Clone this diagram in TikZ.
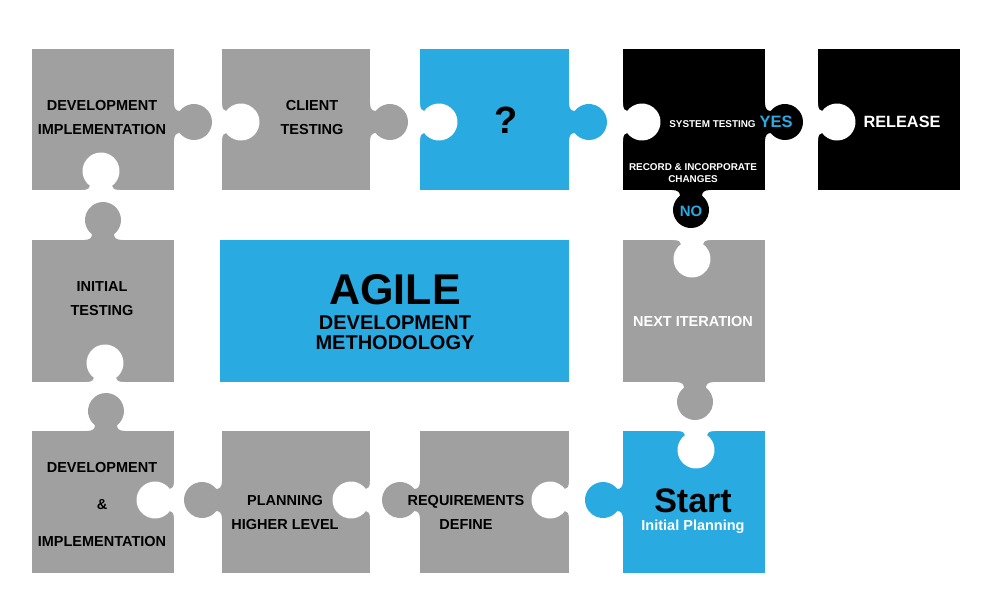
\documentclass[tikz,border=0pt]{standalone}
\usepackage{fontspec}
\setmainfont{Liberation Sans}
\definecolor{pgrey}{RGB}{160,160,160}
\definecolor{pblue}{RGB}{41,170,225}
\tikzset{
  piece/.style={rectangle, inner sep=0pt, outer sep=0pt, minimum width=142pt, minimum height=141pt},
  knobtab/.pic={\path[pic actions] (-19,-1) -- (-19,0) .. controls (-13,0) and (-11,2.5) .. (-11,5.75)
      arc[start angle=232.3,end angle=-52.3,radius=18] .. controls (11,2.5) and (13,0) .. (19,0) -- (19,-1) -- cycle;},
  knobhole/.pic={\path[fill=white] (-19,-1.5) -- (-19,0) .. controls (-13,0) and (-11,1.8) .. (-11,4.13)
      arc[start angle=233.5,end angle=-53.5,radius=18.5] .. controls (11,1.8) and (13,0) .. (19,0) -- (19,-1.5) -- cycle;},
  lbl/.style={font=\bfseries\fontsize{14.5}{24}\selectfont, align=center, inner sep=0pt},
}
\begin{document}
\begin{tikzpicture}[x=1pt,y=-1pt]
\useasboundingbox (0,0) rectangle (994,606);
% pieces
\node[piece, fill=pgrey] (p1) at (103,119.5) {};
\node[piece, fill=pgrey, minimum width=148pt] (p2) at (296,119.5) {};
\node[piece, fill=pblue, minimum width=149pt] (p3) at (494.5,119.5) {};
\node[piece, fill=black] (p4) at (694,119.5) {};
\node[piece, fill=black] (p5) at (889,119.5) {};
\node[piece, fill=pgrey, minimum height=142pt] (p6) at (103,311) {};
\node[piece, fill=pblue, minimum width=349pt, minimum height=142pt] (agile) at (394.5,311) {};
\node[piece, fill=pgrey, minimum height=142pt] (p7) at (694,311) {};
\node[piece, fill=pgrey, minimum height=142pt] (p8) at (103,502) {};
\node[piece, fill=pgrey, minimum width=148pt, minimum height=142pt] (p9) at (296,502) {};
\node[piece, fill=pgrey, minimum width=149pt, minimum height=142pt] (p10) at (494.5,502) {};
\node[piece, fill=pblue, minimum height=142pt] (p11) at (694,502) {};
% tabs
\pic[fill=pgrey, rotate=90] at (174,122) {knobtab};
\pic[fill=pgrey, rotate=90] at (370,122) {knobtab};
\pic[fill=pblue, rotate=90] at (569,122) {knobtab};
\pic[fill=black, rotate=90] at (765,122) {knobtab};
\pic[fill=black] at (691,190) {knobtab};
\pic[fill=pgrey, rotate=180] at (103,240) {knobtab};
\pic[fill=pgrey] at (695,382) {knobtab};
\pic[fill=pgrey, rotate=180] at (106,431) {knobtab};
\pic[fill=pgrey, rotate=-90] at (222,500) {knobtab};
\pic[fill=pgrey, rotate=-90] at (420,500) {knobtab};
\pic[fill=pblue, rotate=-90] at (623,500) {knobtab};
% holes
\pic[rotate=180] at (101,190) {knobhole};
\pic[rotate=90] at (222,122) {knobhole};
\pic[rotate=90] at (420,122) {knobhole};
\pic[rotate=90] at (623,122) {knobhole};
\pic[rotate=90] at (818,122) {knobhole};
\pic[rotate=180] at (105,382) {knobhole};
\pic at (692,240) {knobhole};
\pic[rotate=-90] at (174,500) {knobhole};
\pic[rotate=-90] at (370,500) {knobhole};
\pic[rotate=-90] at (569,500) {knobhole};
\pic at (696,431) {knobhole};
% texts
\node[lbl] (t1) at (102,118) {DEVELOPMENT\\IMPLEMENTATION};
\node[lbl] (t2) at (312,118) {CLIENT\\TESTING};
\node[lbl, font=\bfseries\fontsize{38}{40}\selectfont] (t3) at (506,120) {?};
\node[lbl, anchor=base, text=white] (t4) at (731,127.5) {{\fontsize{9.9}{12}\selectfont SYSTEM TESTING} {\color{pblue}\fontsize{16.5}{18}\selectfont YES}};
\node[lbl, text=white, font=\bfseries\fontsize{9.9}{12}\selectfont] (t4b) at (693,173) {RECORD \& INCORPORATE\\CHANGES};
\node[lbl, text=pblue, font=\bfseries\fontsize{15}{18}\selectfont] (tno) at (691,211) {NO};
\node[lbl, text=white, font=\bfseries\fontsize{16.3}{18}\selectfont] (t5) at (902,122) {RELEASE};
\node[lbl] (t6) at (102,299) {INITIAL\\TESTING};
\node[lbl, font=\bfseries\fontsize{43}{45}\selectfont] (tag) at (395,290) {AGILE};
\node[lbl, font=\bfseries\fontsize{20}{20}\selectfont] (tag2) at (395,333) {DEVELOPMENT\\METHODOLOGY};
\node[lbl, text=white] (t7) at (693,322) {NEXT ITERATION};
\node[lbl, font=\bfseries\fontsize{14.5}{37}\selectfont] (t8) at (102,504) {DEVELOPMENT\\\&\\IMPLEMENTATION};
\node[lbl] (t9) at (285,512) {PLANNING\\HIGHER LEVEL};
\node[lbl] (t10) at (466,512) {REQUIREMENTS\\DEFINE};
\node[lbl, font=\bfseries\fontsize{34}{36}\selectfont] (t11) at (693,501) {Start};
\node[lbl, text=white] (t11b) at (693,527) {Initial Planning};
\end{tikzpicture}
\end{document}
